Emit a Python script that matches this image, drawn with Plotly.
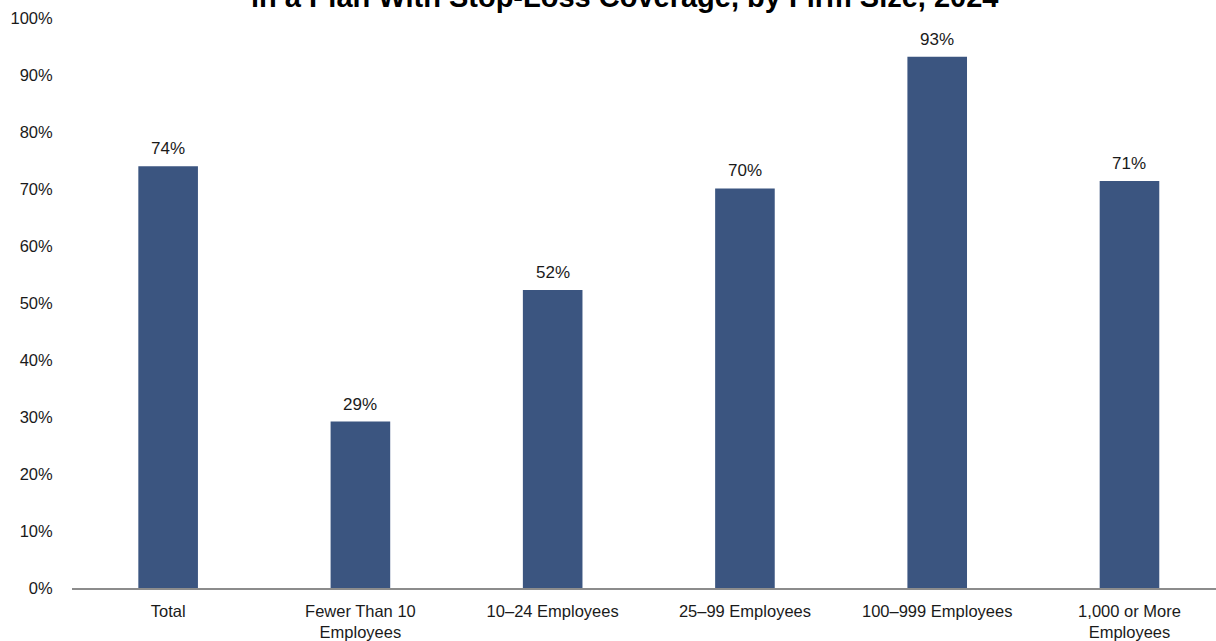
import plotly.graph_objects as go

categories = ["Total", "Fewer Than 10<br>Employees", "10–24 Employees", "25–99 Employees",
              "100–999 Employees", "1,000 or More<br>Employees"]
values = [74.0, 29.2, 52.3, 70.1, 93.2, 71.4]
labels = ["74%", "29%", "52%", "70%", "93%", "71%"]
y_ticks = [0, 10, 20, 30, 40, 50, 60, 70, 80, 90, 100]
y_tick_text = ["0%", "10%", "20%", "30%", "40%", "50%", "60%", "70%", "80%", "90%", "100%"]
title_text = "in a Plan With Stop-Loss Coverage, by Firm Size, 2024"

xs = list(range(len(categories)))

fig = go.Figure()
fig.add_trace(go.Bar(
    x=xs, y=values,
    marker=dict(color="#3B5580", line=dict(width=0)), width=0.31,
))
for x, v, t in zip(xs, values, labels):
    fig.add_annotation(x=x, y=v, text=t, showarrow=False, yanchor="bottom", yshift=6,
                       font=dict(family="Liberation Sans, Arial", size=17, color="#1a1a1a"))
fig.add_annotation(text=title_text, xref="paper", yref="paper", x=(624.5 - 72) / 1144, y=1,
                   xanchor="center", yanchor="bottom", yshift=3, showarrow=False,
                   font=dict(family="Liberation Sans, Arial", size=29, color="black", weight="bold"))
fig.update_layout(
    width=1216, height=641,
    margin=dict(l=72, r=0, t=18, b=53),
    plot_bgcolor="white", paper_bgcolor="white",
    showlegend=False,
    font=dict(family="Liberation Sans, Arial", size=16.5, color="#1a1a1a"),
)
fig.update_xaxes(
    tickmode="array", tickvals=xs, ticktext=categories,
    range=[-0.5, 5.45], showgrid=False, showline=True, linecolor="#8c8c8c", linewidth=1.5,
    ticks="outside", ticklen=7, tickcolor="rgba(0,0,0,0)", zeroline=False,
)
fig.update_yaxes(
    range=[0, 100], tickmode="array", tickvals=y_ticks, ticktext=y_tick_text,
    showgrid=False, showline=False,
    zeroline=False, ticks="outside", ticklen=15, tickcolor="rgba(0,0,0,0)",
)
fig.write_html("out.html")
